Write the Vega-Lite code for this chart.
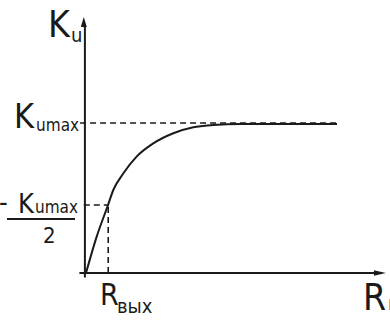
{
  "$schema": "https://vega.github.io/schema/vega-lite/v6.json",
  "width": 390,
  "height": 322,
  "padding": 0,
  "autosize": {"type": "none"},
  "background": "white",
  "config": {"view": {"stroke": null}, "text": {"font": "Liberation Sans Narrow, DejaVu Sans Condensed, DejaVu Sans", "color": "#1a1a1a", "align": "left", "baseline": "alphabetic"}},
  "datasets": {
    "curve": [
      {"R": 0, "K": 0},
      {"R": 0.486, "K": 0.244},
      {"R": 1.0, "K": 0.456},
      {"R": 1.24, "K": 0.557},
      {"R": 1.7, "K": 0.669},
      {"R": 2.3, "K": 0.781},
      {"R": 3.06, "K": 0.87},
      {"R": 3.97, "K": 0.938},
      {"R": 4.88, "K": 0.978},
      {"R": 5.79, "K": 0.993},
      {"R": 7.0, "K": 1.0},
      {"R": 11.41, "K": 1.0}
    ],
    "dashed": [
      {"x1": -0.27, "x2": 11.41, "y1": 1.007, "y2": 1.007},
      {"x1": -0.1, "x2": 1.0, "y1": 0.456, "y2": 0.456},
      {"x1": 1.01, "x2": 1.01, "y1": 0.0, "y2": 0.456}
    ],
    "solid": [
      {"x1": -0.05, "x2": -0.05, "y1": -0.03, "y2": 1.66},
      {"x1": -0.3, "x2": 13.45, "y1": 0.0, "y2": 0.0},
      {"x1": -3.59, "x2": -0.5, "y1": 0.362, "y2": 0.362}
    ],
    "arrows": [
      {"x": -0.1, "y": 1.685, "dir": "up"},
      {"x": 13.36, "y": 0.0, "dir": "right"}
    ],
    "labels": [
      {"x": -1.727, "y": 1.584, "t": "K", "g": "a"},
      {"x": 12.59, "y": -0.248, "t": "R", "g": "a"},
      {"x": -3.27, "y": 0.973, "t": "K", "g": "b"},
      {"x": 0.636, "y": -0.215, "t": "R", "g": "c"},
      {"x": -3.091, "y": 0.403, "t": "K", "g": "d"},
      {"x": -3.95, "y": 0.416, "t": "-", "g": "d"},
      {"x": -1.955, "y": 0.201, "t": "2", "g": "e"},
      {"x": -0.682, "y": 1.55, "t": "u", "g": "f"},
      {"x": 1.409, "y": -0.268, "t": "вых", "g": "f"},
      {"x": 13.73, "y": -0.248, "t": "н", "g": "f"},
      {"x": -2.27, "y": 0.953, "t": "umax", "g": "g"},
      {"x": -2.318, "y": 0.403, "t": "umax", "g": "g"}
    ]
  },
  "layer": [
    {
      "data": {"name": "solid"},
      "mark": {"type": "rule", "color": "#1a1a1a", "strokeWidth": 2},
      "encoding": {
        "x": {"field": "x1", "type": "quantitative", "scale": {"domain": [-3.9091, 13.8182], "nice": false, "zero": false}, "axis": null},
        "x2": {"field": "x2"},
        "y": {"field": "y1", "type": "quantitative", "scale": {"domain": [-0.3289, 1.8322], "nice": false, "zero": false}, "axis": null},
        "y2": {"field": "y2"}
      }
    },
    {
      "data": {"name": "dashed"},
      "mark": {"type": "rule", "color": "#1a1a1a", "strokeWidth": 1.6, "strokeDash": [6, 4]},
      "encoding": {
        "x": {"field": "x1", "type": "quantitative", "scale": {"domain": [-3.9091, 13.8182], "nice": false, "zero": false}, "axis": null},
        "x2": {"field": "x2"},
        "y": {"field": "y1", "type": "quantitative", "scale": {"domain": [-0.3289, 1.8322], "nice": false, "zero": false}, "axis": null},
        "y2": {"field": "y2"}
      }
    },
    {
      "data": {"name": "curve"},
      "mark": {"type": "line", "color": "#1a1a1a", "strokeWidth": 2, "interpolate": "monotone"},
      "encoding": {
        "x": {"field": "R", "type": "quantitative", "scale": {"domain": [-3.9091, 13.8182], "nice": false, "zero": false}, "axis": null},
        "y": {"field": "K", "type": "quantitative", "scale": {"domain": [-0.3289, 1.8322], "nice": false, "zero": false}, "axis": null}
      }
    },
    {
      "data": {"name": "arrows"},
      "transform": [{"filter": "datum.dir == 'up'"}],
      "mark": {"type": "point", "shape": "M0,-1L0.6,1L-0.6,1Z", "filled": true, "color": "#1a1a1a", "size": 100, "opacity": 1},
      "encoding": {
        "x": {"field": "x", "type": "quantitative", "scale": {"domain": [-3.9091, 13.8182], "nice": false, "zero": false}, "axis": null},
        "y": {"field": "y", "type": "quantitative", "scale": {"domain": [-0.3289, 1.8322], "nice": false, "zero": false}, "axis": null}
      }
    },
    {
      "data": {"name": "arrows"},
      "transform": [{"filter": "datum.dir == 'right'"}],
      "mark": {"type": "point", "shape": "M1,0L-1,-0.45L-1,0.45Z", "filled": true, "color": "#1a1a1a", "size": 144, "opacity": 1},
      "encoding": {
        "x": {"field": "x", "type": "quantitative", "scale": {"domain": [-3.9091, 13.8182], "nice": false, "zero": false}, "axis": null},
        "y": {"field": "y", "type": "quantitative", "scale": {"domain": [-0.3289, 1.8322], "nice": false, "zero": false}, "axis": null}
      }
    },
    {
      "data": {"name": "labels"},
      "transform": [{"filter": "datum.g == 'a'"}],
      "mark": {"type": "text", "fontSize": 37},
      "encoding": {
        "x": {"field": "x", "type": "quantitative", "scale": {"domain": [-3.9091, 13.8182], "nice": false, "zero": false}, "axis": null},
        "y": {"field": "y", "type": "quantitative", "scale": {"domain": [-0.3289, 1.8322], "nice": false, "zero": false}, "axis": null},
        "text": {"field": "t"}
      }
    },
    {
      "data": {"name": "labels"},
      "transform": [{"filter": "datum.g == 'b'"}],
      "mark": {"type": "text", "fontSize": 34},
      "encoding": {
        "x": {"field": "x", "type": "quantitative", "scale": {"domain": [-3.9091, 13.8182], "nice": false, "zero": false}, "axis": null},
        "y": {"field": "y", "type": "quantitative", "scale": {"domain": [-0.3289, 1.8322], "nice": false, "zero": false}, "axis": null},
        "text": {"field": "t"}
      }
    },
    {
      "data": {"name": "labels"},
      "transform": [{"filter": "datum.g == 'c'"}],
      "mark": {"type": "text", "fontSize": 30},
      "encoding": {
        "x": {"field": "x", "type": "quantitative", "scale": {"domain": [-3.9091, 13.8182], "nice": false, "zero": false}, "axis": null},
        "y": {"field": "y", "type": "quantitative", "scale": {"domain": [-0.3289, 1.8322], "nice": false, "zero": false}, "axis": null},
        "text": {"field": "t"}
      }
    },
    {
      "data": {"name": "labels"},
      "transform": [{"filter": "datum.g == 'd'"}],
      "mark": {"type": "text", "fontSize": 27},
      "encoding": {
        "x": {"field": "x", "type": "quantitative", "scale": {"domain": [-3.9091, 13.8182], "nice": false, "zero": false}, "axis": null},
        "y": {"field": "y", "type": "quantitative", "scale": {"domain": [-0.3289, 1.8322], "nice": false, "zero": false}, "axis": null},
        "text": {"field": "t"}
      }
    },
    {
      "data": {"name": "labels"},
      "transform": [{"filter": "datum.g == 'e'"}],
      "mark": {"type": "text", "fontSize": 22},
      "encoding": {
        "x": {"field": "x", "type": "quantitative", "scale": {"domain": [-3.9091, 13.8182], "nice": false, "zero": false}, "axis": null},
        "y": {"field": "y", "type": "quantitative", "scale": {"domain": [-0.3289, 1.8322], "nice": false, "zero": false}, "axis": null},
        "text": {"field": "t"}
      }
    },
    {
      "data": {"name": "labels"},
      "transform": [{"filter": "datum.g == 'f'"}],
      "mark": {"type": "text", "fontSize": 20},
      "encoding": {
        "x": {"field": "x", "type": "quantitative", "scale": {"domain": [-3.9091, 13.8182], "nice": false, "zero": false}, "axis": null},
        "y": {"field": "y", "type": "quantitative", "scale": {"domain": [-0.3289, 1.8322], "nice": false, "zero": false}, "axis": null},
        "text": {"field": "t"}
      }
    },
    {
      "data": {"name": "labels"},
      "transform": [{"filter": "datum.g == 'g'"}],
      "mark": {"type": "text", "fontSize": 17},
      "encoding": {
        "x": {"field": "x", "type": "quantitative", "scale": {"domain": [-3.9091, 13.8182], "nice": false, "zero": false}, "axis": null},
        "y": {"field": "y", "type": "quantitative", "scale": {"domain": [-0.3289, 1.8322], "nice": false, "zero": false}, "axis": null},
        "text": {"field": "t"}
      }
    }
  ]
}
